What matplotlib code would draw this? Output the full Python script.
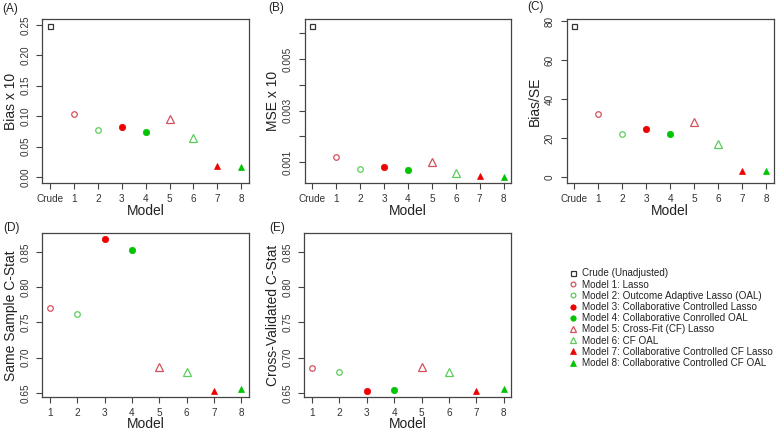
import matplotlib
matplotlib.use("Agg")
import matplotlib.pyplot as plt
from matplotlib.lines import Line2D
import numpy as np

plt.rcParams['font.family'] = ['Liberation Sans', 'DejaVu Sans']

# ---------------- data ----------------
models = [1, 2, 3, 4, 5, 6, 7, 8]
x_tick_labels_top = ["Crude", "1", "2", "3", "4", "5", "6", "7", "8"]

crude_bias = 0.2487
bias = [0.1035, 0.0776, 0.0825, 0.0738, 0.0947, 0.0634, 0.0180, 0.0165]

crude_mse = 0.0063
mse = [0.00121, 0.00074, 0.00083, 0.00069, 0.00101, 0.00057, 0.00048, 0.00043]

crude_bias_se = 77.8
bias_se = [32.5, 22.3, 24.8, 21.9, 28.4, 17.1, 3.1, 3.1]

cstat_same = [0.7703, 0.7618, 0.8679, 0.8531, 0.6869, 0.6798, 0.6534, 0.6557]
cstat_cv = [0.6855, 0.6794, 0.6524, 0.6548, 0.6865, 0.6803, 0.6524, 0.6557]

legend_labels = [
    "Crude (Unadjusted)",
    "Model 1: Lasso",
    "Model 2: Outcome Adaptive Lasso (OAL)",
    "Model 3: Collaborative Controlled Lasso",
    "Model 4: Collaborative Conrolled OAL",
    "Model 5: Cross-Fit (CF) Lasso",
    "Model 6: CF OAL",
    "Model 7: Collaborative Controlled CF Lasso",
    "Model 8: Collaborative Controlled CF OAL",
]

# ---------------- styles ----------------
RED_OPEN = "#d4505c"
GREEN_OPEN = "#5ccc5c"
RED = "#ee0000"
GREEN = "#00c400"
styles = [
    dict(marker='o', ms=4.0, mfc='none', mec=RED_OPEN, mew=0.9),
    dict(marker='o', ms=4.0, mfc='none', mec=GREEN_OPEN, mew=0.9),
    dict(marker='o', ms=4.6, mfc=RED, mec=RED, mew=0.5),
    dict(marker='o', ms=4.6, mfc=GREEN, mec=GREEN, mew=0.5),
    dict(marker='^', ms=5.6, mfc='none', mec=RED_OPEN, mew=0.9),
    dict(marker='^', ms=5.6, mfc='none', mec=GREEN_OPEN, mew=0.9),
    dict(marker='^', ms=4.4, mfc=RED, mec=RED, mew=0.5),
    dict(marker='^', ms=4.4, mfc=GREEN, mec=GREEN, mew=0.5),
]
crude_style = dict(marker='s', ms=3.6, mfc='none', mec='#333333', mew=0.9)

W, H = 778, 433
fig = plt.figure(figsize=(W / 100, H / 100), dpi=100)

def add_axes(left, right, top, bottom):
    return fig.add_axes([left / W, 1 - bottom / H, (right - left) / W, (bottom - top) / H])

SPINE = "#444444"
TXT = "#333333"
TICKFS = 7.2
LABFS = 10

def r_lim(lo, hi):
    d = (hi - lo) * 0.04
    return lo - d, hi + d

def style_ax(ax, ylabel):
    for s in ax.spines.values():
        s.set_color(SPINE)
        s.set_linewidth(0.9)
    ax.tick_params(axis='both', colors=SPINE, labelcolor=TXT, labelsize=TICKFS,
                   length=4, width=0.8, direction='out')
    ax.tick_params(axis='y', labelrotation=90, pad=4.5)
    for lab in ax.get_yticklabels():
        lab.set_va('center')
    ax.tick_params(axis='x', pad=4)
    ax.set_xlabel("Model", fontsize=LABFS, color='#222222')
    ax.set_ylabel(ylabel, fontsize=LABFS, color='#222222')
    ax.xaxis.set_label_coords(0.5, -0.17)
    ax.yaxis.set_label_coords(-0.152, 0.5)
    ax.xaxis.label.set_va('center')
    ax.yaxis.label.set_va('center')

def plot_panel(ax, crude, vals, ylim, yticks, yticklabels, ylabel, with_crude=True):
    if with_crude:
        ax.plot([0], [crude], linestyle='none', **crude_style)
    for m, v, st in zip(models, vals, styles):
        ax.plot([m], [v], linestyle='none', **st)
    if with_crude:
        ax.set_xlim(*r_lim(0, 8))
        ax.set_xticks([0] + models)
        ax.set_xticklabels(x_tick_labels_top)
    else:
        ax.set_xlim(*r_lim(1, 8))
        ax.set_xticks(models)
        ax.set_xticklabels([str(m) for m in models])
    ax.set_ylim(*ylim)
    ax.set_yticks(yticks)
    ax.set_yticklabels(yticklabels)
    style_ax(ax, ylabel)

# Panel A
axA = add_axes(42.3, 249, 19.5, 183)
plot_panel(axA, crude_bias, bias, r_lim(0, max(bias + [crude_bias])),
           [0, 0.05, 0.10, 0.15, 0.20, 0.25],
           ["0.00", "0.05", "0.10", "0.15", "0.20", "0.25"], "Bias x 10")

# Panel B
axB = add_axes(304.7, 511.3, 19.5, 183)
allm = mse + [crude_mse]
plot_panel(axB, crude_mse, mse, r_lim(min(allm), max(allm)),
           [0.001, 0.002, 0.003, 0.004, 0.005, 0.006],
           ["0.001", "", "0.003", "", "0.005", ""], "MSE x 10")

# Panel C
axC = add_axes(566.7, 773.7, 19.5, 183)
plot_panel(axC, crude_bias_se, bias_se, r_lim(0, max(bias_se + [crude_bias_se])),
           [0, 20, 40, 60, 80], ["0", "20", "40", "60", "80"], "Bias/SE")

# Panels D and E share y-range
allc = cstat_same + cstat_cv
cl = r_lim(min(allc), max(allc))
cticks = [0.65, 0.70, 0.75, 0.80, 0.85]
cticklabels = ["0.65", "0.70", "0.75", "0.80", "0.85"]
axD = add_axes(42.3, 249, 233.3, 397.3)
plot_panel(axD, None, cstat_same, cl, cticks, cticklabels, "Same Sample C-Stat", with_crude=False)
axE = add_axes(304.3, 511.4, 233.3, 397.3)
plot_panel(axE, None, cstat_cv, cl, cticks, cticklabels, "Cross-Validated C-Stat", with_crude=False)

for ax in (axD, axE):
    ax.xaxis.set_label_coords(0.5, -0.165)

# panel letters
for lab, px, py in [("(A)", 10, 9), ("(B)", 276, 8), ("(C)", 535, 7),
                    ("(D)", 12, 228), ("(E)", 277, 228)]:
    fig.text(px / W, 1 - py / H, lab, fontsize=8.5, color='#222222', ha='center', va='center')

# legend
handles = [Line2D([], [], linestyle='none', **crude_style)]
for st in styles:
    s = dict(st)
    s['ms'] = s['ms'] * 0.85
    handles.append(Line2D([], [], linestyle='none', **s))
leg = fig.legend(handles, legend_labels, loc='upper left',
                 bbox_to_anchor=(569 / W, 1 - 268.5 / H), frameon=False,
                 fontsize=7.15, labelspacing=0.12, handlelength=0.8,
                 handletextpad=0.5, borderpad=0, borderaxespad=0)
for t in leg.get_texts():
    t.set_color('#222222')

fig.savefig("out.png", dpi=100)
